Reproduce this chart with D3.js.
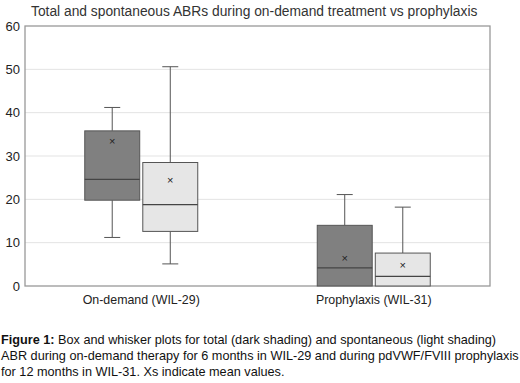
<!DOCTYPE html>
<html><head><meta charset="utf-8">
<script src="https://cdn.jsdelivr.net/npm/d3@7"></script>
<style>body{margin:0;background:#fff;font-family:"Liberation Sans",Arial,sans-serif}</style>
</head><body><svg id="c" width="520" height="383"></svg>
<script>
const categories = ["On-demand (WIL-29)", "Prophylaxis (WIL-31)"];
const series = ["Total", "Spontaneous"];
// [min, q1, median, q3, max, mean]
const totalStats = [[11.2, 19.8, 24.6, 35.8, 41.2, 33.5],[0, 0, 4.2, 14.0, 21.1, 6.4]];
const spontStats = [[5.1, 12.6, 18.8, 28.5, 50.6, 24.5],[0, 0, 2.2, 7.6, 18.2, 4.8]];
const yTicks = [0,10,20,30,40,50,60];
const fills = ["#808080", "#e6e6e6"];

const svg = d3.select("#c");
const m = {l:25, r:490, t:26, b:286};
const x = d3.scaleBand().domain(categories).range([m.l, m.r]);
const y = d3.scaleLinear().domain([0,60]).range([m.b, m.t]);
const sub = d3.scaleBand().domain(series).range([0,113]).paddingInner(0.053);

const title = svg.append("text").attr("x",31).attr("y",16).attr("font-size",15).attr("fill","#333")
  .text("Total and spontaneous ABRs during on-demand treatment vs prophylaxis");
const tw = title.node().getComputedTextLength();
title.attr("font-size", 15*447/tw);

svg.append("g").selectAll("line").data(yTicks.slice(1,-1)).join("line")
  .attr("x1",m.l).attr("x2",m.r).attr("y1",d=>y(d)).attr("y2",d=>y(d))
  .attr("stroke","#e3e3e3").attr("stroke-width",1);

const ya = svg.append("g").attr("transform",`translate(${m.l},0)`)
  .call(d3.axisLeft(y).tickValues(yTicks).tickSize(0).tickPadding(5));
ya.select(".domain").remove();
ya.selectAll("text").attr("font-size",13).attr("fill","#222").attr("font-family","Liberation Sans, Arial, sans-serif");

svg.append("rect").attr("x",m.l).attr("y",m.t).attr("width",m.r-m.l).attr("height",m.b-m.t)
  .attr("fill","none").attr("stroke","#999").attr("stroke-width",1.3);

const data = [];
categories.forEach((c,i)=>{
  data.push({cat:c, s:series[0], v:totalStats[i], f:fills[0]});
  data.push({cat:c, s:series[1], v:spontStats[i], f:fills[1]});
});
const g = svg.append("g");
data.forEach(d=>{
  const x0 = x(d.cat) + (x.bandwidth()-113)/2 + sub(d.s);
  const w = sub.bandwidth();
  const cx = x0 + w/2;
  const [mn,q1,md,q3,mx,mean] = d.v;
  const col = "#555";
  g.append("line").attr("x1",cx).attr("x2",cx).attr("y1",y(q3)).attr("y2",y(mx)).attr("stroke",col);
  g.append("line").attr("x1",cx).attr("x2",cx).attr("y1",y(q1)).attr("y2",y(mn)).attr("stroke",col);
  g.append("line").attr("x1",cx-8).attr("x2",cx+8).attr("y1",y(mx)).attr("y2",y(mx)).attr("stroke",col);
  if (mn>0) g.append("line").attr("x1",cx-8).attr("x2",cx+8).attr("y1",y(mn)).attr("y2",y(mn)).attr("stroke",col);
  g.append("rect").attr("x",x0).attr("y",y(q3)).attr("width",w).attr("height",y(q1)-y(q3))
    .attr("fill",d.f).attr("stroke",col).attr("stroke-width",1);
  g.append("line").attr("x1",x0).attr("x2",x0+w).attr("y1",y(md)).attr("y2",y(md)).attr("stroke","#444").attr("stroke-width",1.2);
  g.append("text").attr("x",cx).attr("y",y(mean)).attr("dy","0.35em").attr("text-anchor","middle")
    .attr("font-size",11).attr("fill","#222").text("×");
});

const xa = svg.append("g").attr("transform",`translate(0,${m.b})`)
  .call(d3.axisBottom(x).tickSize(0).tickPadding(9));
xa.select(".domain").remove();
xa.selectAll("text").attr("font-size",12.4).attr("fill","#222").attr("font-family","Liberation Sans, Arial, sans-serif");

const cap = svg.append("g").attr("font-size",12.7).attr("fill","#111");
const t1 = cap.append("text").attr("x",1).attr("y",344);
t1.append("tspan").attr("font-weight","bold").text("Figure 1:");
t1.append("tspan").text(" Box and whisker plots for total (dark shading) and spontaneous (light shading)");
cap.append("text").attr("x",1).attr("y",360).text("ABR during on-demand therapy for 6 months in WIL-29 and during pdVWF/FVIII prophylaxis");
cap.append("text").attr("x",1).attr("y",376).text("for 12 months in WIL-31. Xs indicate mean values.");
</script></body></html>
